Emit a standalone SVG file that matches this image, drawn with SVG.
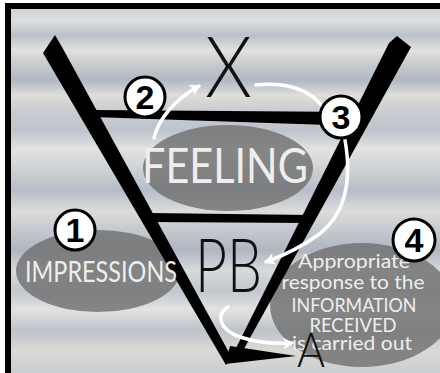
<svg xmlns="http://www.w3.org/2000/svg" width="440" height="373" viewBox="0 0 440 373">
<defs>
<linearGradient id="bg" x1="0" y1="0" x2="0" y2="373" gradientUnits="userSpaceOnUse">
<stop offset="0.02" stop-color="#cfd0d2"/>
<stop offset="0.055" stop-color="#dcdedf"/>
<stop offset="0.095" stop-color="#bac1ca"/>
<stop offset="0.135" stop-color="#e2e2de"/>
<stop offset="0.175" stop-color="#c6cacd"/>
<stop offset="0.215" stop-color="#b0b8c3"/>
<stop offset="0.255" stop-color="#dededa"/>
<stop offset="0.295" stop-color="#cacdd0"/>
<stop offset="0.35" stop-color="#bec4cc"/>
<stop offset="0.40" stop-color="#e2e2e0"/>
<stop offset="0.455" stop-color="#ced1d4"/>
<stop offset="0.51" stop-color="#b6bdc8"/>
<stop offset="0.565" stop-color="#dcdcd8"/>
<stop offset="0.615" stop-color="#c6cacf"/>
<stop offset="0.67" stop-color="#afb6c1"/>
<stop offset="0.725" stop-color="#d8dad8"/>
<stop offset="0.78" stop-color="#c2c7ce"/>
<stop offset="0.83" stop-color="#e2e2e2"/>
<stop offset="0.885" stop-color="#bec3ca"/>
<stop offset="0.94" stop-color="#dadad6"/>
<stop offset="1" stop-color="#cacdd0"/>
</linearGradient>
<marker id="ah" markerWidth="12" markerHeight="12" refX="9" refY="6" orient="auto" markerUnits="userSpaceOnUse">
<path d="M0,0 L11,6 L0,12 L3,6 Z" fill="#ffffff"/>
</marker>
<style>
.bar{fill:#000}
.ell{fill:#6e6e6e;fill-opacity:0.8}
.big{font-family:Lato,"Liberation Sans",sans-serif;font-weight:300;fill:#111}
.wt{font-family:Lato,"Liberation Sans",sans-serif;font-weight:400;fill:#eeeeee}
.num circle{fill:#fff;stroke:#000;stroke-width:3}
.num text{font-family:"Liberation Sans",Arial,sans-serif;font-weight:bold;font-size:34px;fill:#000;text-anchor:middle}
.arr{fill:none;stroke:#fff;stroke-width:3.5;stroke-linecap:round}
</style>
</defs>
<rect x="0" y="0" width="440" height="373" fill="#ffffff"/>
<rect x="5" y="3" width="440" height="375" fill="#000"/>
<rect x="11" y="9" width="440" height="370" fill="url(#bg)"/>

<g id="ellipse-feeling"><ellipse class="ell" cx="228" cy="168" rx="85" ry="43"/></g>
<g id="ellipse-impressions"><ellipse class="ell" cx="98" cy="271" rx="82" ry="41"/></g>
<g id="ellipse-response"><ellipse class="ell" cx="362" cy="305" rx="92" ry="62"/></g>

<g id="funnel">
<polygon class="bar" points="55,35 62,47 232,358 226,365 43,53"/>
<polygon class="bar" points="397,36 411,47 240,356 230,360 389,43"/>
<polygon class="bar" points="92,110 358,112 358,126 92,117"/>
<polygon class="bar" points="148,213 310,215 310,223 148,222"/>
<polygon class="bar" points="230,346 296,356 225,364"/>
</g>

<g id="letter-x"><text class="big" x="205" y="97" font-size="84" textLength="47" lengthAdjust="spacingAndGlyphs">X</text></g>
<g id="letter-pb"><text class="big" x="195" y="292" font-size="75" textLength="67" lengthAdjust="spacingAndGlyphs">PB</text></g>

<g id="label-feeling"><text class="wt" x="142" y="183" font-size="49" textLength="166" lengthAdjust="spacingAndGlyphs">FEELING</text></g>
<g id="label-impressions"><text class="wt" x="25" y="282" font-size="28" textLength="152" lengthAdjust="spacingAndGlyphs">IMPRESSIONS</text></g>
<g id="label-response" class="wt" font-size="19" text-anchor="middle">
<text x="354" y="268" textLength="112" lengthAdjust="spacingAndGlyphs">Appropriate</text>
<text x="353" y="289" textLength="143" lengthAdjust="spacingAndGlyphs">response to the</text>
<text x="354" y="312" textLength="125" lengthAdjust="spacingAndGlyphs">INFORMATION</text>
<text x="353" y="332" textLength="87" lengthAdjust="spacingAndGlyphs">RECEIVED</text>
<text x="352" y="350" textLength="120" lengthAdjust="spacingAndGlyphs">is carried out</text>
</g>
<g id="letter-a"><text class="big" x="297" y="367" font-size="47" textLength="28" lengthAdjust="spacingAndGlyphs">A</text></g>

<g id="connectors">
<path class="arr" d="M154,138 C158,120 174,100 199,86" marker-end="url(#ah)"/>
<path class="arr" d="M256,85 C285,82 309,89 322,106"/>
<path class="arr" d="M345,140 C352,180 346,214 318,235 C300,248 285,255 266,262" marker-end="url(#ah)"/>
<path class="arr" d="M228,307 C215,315 220,330 240,337 C258,343 275,344 292,343" marker-end="url(#ah)"/>
</g>

<g id="step-2" class="num"><circle cx="145" cy="97" r="20"/><text x="145" y="109">2</text></g>
<g id="step-3" class="num"><circle cx="341" cy="117" r="21"/><text x="341" y="129">3</text></g>
<g id="step-1" class="num"><circle cx="75" cy="230" r="20"/><text x="75" y="242">1</text></g>
<g id="step-4" class="num"><circle cx="414" cy="240" r="21"/><text x="414" y="252">4</text></g>
</svg>
